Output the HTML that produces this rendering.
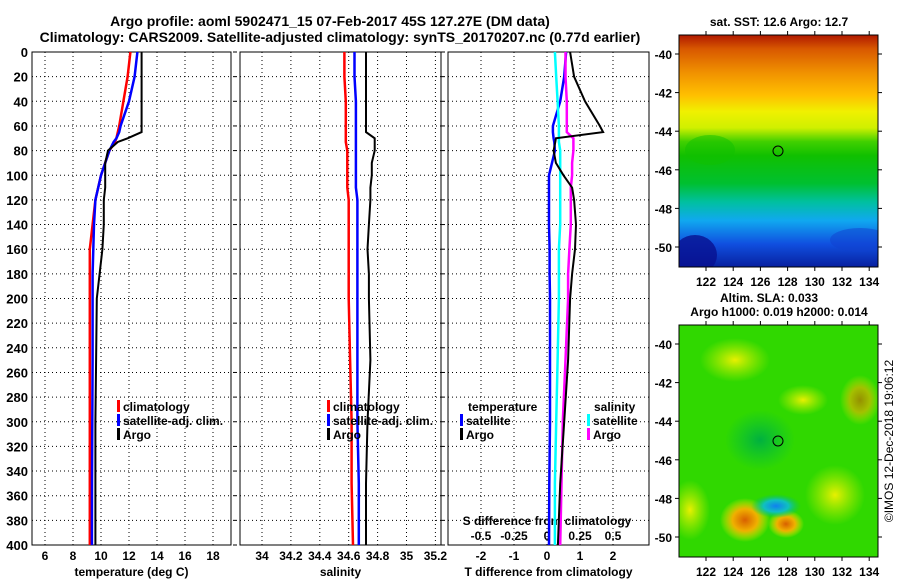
<!DOCTYPE html>
<html><head><meta charset="utf-8"><style>
body{margin:0;background:#fff}
svg{font-family:"Liberation Sans",Arial,sans-serif;font-weight:bold}
</style></head><body>
<svg id="c" width="900" height="580" xmlns="http://www.w3.org/2000/svg">
<defs>
<linearGradient id="sst" x1="0" y1="0" x2="0" y2="1">
<stop offset="0" stop-color="#b01800"/><stop offset="0.06" stop-color="#d85800"/><stop offset="0.16" stop-color="#f09000"/><stop offset="0.26" stop-color="#ffc000"/><stop offset="0.33" stop-color="#f0f000"/><stop offset="0.4" stop-color="#d0f000"/><stop offset="0.46" stop-color="#40d000"/><stop offset="0.52" stop-color="#10c000"/><stop offset="0.64" stop-color="#00c030"/><stop offset="0.72" stop-color="#00c0a0"/><stop offset="0.8" stop-color="#10a8f0"/><stop offset="0.9" stop-color="#1050e0"/><stop offset="1" stop-color="#0820a0"/>
</linearGradient>
<clipPath id="m1"><rect x="679" y="35" width="199" height="232"/></clipPath>
<clipPath id="m2"><rect x="679" y="325" width="199" height="232"/></clipPath>
<radialGradient id="hot"><stop offset="0" stop-color="#d86000"/><stop offset="0.5" stop-color="#f0b000"/><stop offset="1" stop-color="#f0f000" stop-opacity="0"/></radialGradient>
<radialGradient id="yel"><stop offset="0" stop-color="#e8f000"/><stop offset="1" stop-color="#c0f000" stop-opacity="0"/></radialGradient>
<radialGradient id="cold"><stop offset="0" stop-color="#1080f0"/><stop offset="0.5" stop-color="#10c0c0"/><stop offset="1" stop-color="#00c060" stop-opacity="0"/></radialGradient>
<radialGradient id="dkg"><stop offset="0" stop-color="#00b040"/><stop offset="1" stop-color="#00c040" stop-opacity="0"/></radialGradient>
</defs>
<text x="330" y="26" text-anchor="middle" font-size="14">Argo profile: aoml 5902471_15 07-Feb-2017 45S 127.27E (DM data)</text>
<text x="340" y="42" text-anchor="middle" font-size="14">Climatology: CARS2009. Satellite-adjusted climatology: synTS_20170207.nc (0.77d earlier)</text>
<g id="plots"></g>
<g>
<text x="779" y="26" text-anchor="middle" font-size="12">sat. SST: 12.6 Argo: 12.7</text>
<g clip-path="url(#m1)">
<rect x="679" y="35" width="199" height="232" fill="url(#sst)"/>
<ellipse cx="695" cy="255" rx="22" ry="20" fill="#081090" opacity="0.8"/>
<ellipse cx="860" cy="240" rx="30" ry="12" fill="#1040d0" opacity="0.5"/>
<ellipse cx="710" cy="150" rx="25" ry="15" fill="#10c000" opacity="0.5"/>
</g>
<rect x="679" y="35" width="199" height="232" fill="none" stroke="#000"/>
<circle cx="778" cy="151" r="5" fill="none" stroke="#000"/>
</g>
<g>
<text x="769" y="302" text-anchor="middle" font-size="12">Altim. SLA: 0.033</text>
<text x="779" y="316" text-anchor="middle" font-size="12">Argo h1000: 0.019 h2000: 0.014</text>
<g clip-path="url(#m2)">
<rect x="679" y="325" width="199" height="232" fill="#30d800"/>
<ellipse cx="735" cy="360" rx="35" ry="22" fill="url(#yel)"/>
<ellipse cx="860" cy="400" rx="20" ry="25" fill="url(#hot)" opacity="0.6"/>
<ellipse cx="803" cy="400" rx="25" ry="15" fill="url(#yel)"/>
<ellipse cx="745" cy="520" rx="25" ry="22" fill="url(#hot)"/>
<ellipse cx="786" cy="524" rx="18" ry="14" fill="url(#hot)"/>
<ellipse cx="776" cy="506" rx="25" ry="12" fill="url(#cold)"/>
<ellipse cx="835" cy="495" rx="30" ry="30" fill="url(#yel)"/>
<ellipse cx="690" cy="510" rx="20" ry="30" fill="url(#yel)"/>
<ellipse cx="760" cy="440" rx="35" ry="30" fill="url(#dkg)"/>
</g>
<rect x="679" y="325" width="199" height="232" fill="none" stroke="#000"/>
<circle cx="778" cy="441" r="5" fill="none" stroke="#000"/>
<text transform="translate(893,441) rotate(-90)" text-anchor="middle" font-size="12" font-weight="normal">©IMOS 12-Dec-2018 19:06:12</text>
</g>
<g id="maxes"></g>
</svg>
<script>
const depth=[0,20,40,60,65,70,73,80,90,100,110,120,140,160,180,200,250,300,350,400];
const argoT=[12.9,12.9,12.9,12.9,12.9,11.9,11.2,10.5,10.3,10.3,10.3,10.2,10.2,10.1,9.9,9.7,9.65,9.6,9.6,9.6];
const climT=[12.1,11.9,11.6,11.3,11.2,11.1,11.0,10.6,10.3,10.0,9.8,9.6,9.4,9.2,9.2,9.2,9.2,9.2,9.2,9.2];
const satT=[12.6,12.4,12.0,11.4,11.3,11.1,10.9,10.6,10.3,10.0,9.8,9.6,9.5,9.45,9.4,9.4,9.4,9.38,9.36,9.35];
const argoS=[34.72,34.72,34.72,34.72,34.72,34.78,34.78,34.78,34.76,34.76,34.75,34.75,34.74,34.73,34.74,34.74,34.75,34.73,34.72,34.72];
const climS=[34.57,34.57,34.58,34.58,34.58,34.58,34.58,34.59,34.59,34.59,34.59,34.6,34.6,34.6,34.6,34.6,34.61,34.62,34.62,34.63];
const satS=[34.64,34.64,34.65,34.65,34.65,34.65,34.65,34.65,34.65,34.65,34.65,34.66,34.66,34.66,34.66,34.66,34.66,34.66,34.67,34.67];
const satTd=[0.58,0.52,0.4,0.18,0.18,0.2,0.22,0.24,0.15,0.06,0.06,0.06,0.06,0.08,0.08,0.09,0.09,0.09,0.07,0.06];
const argoTd=[0.7,0.82,1.15,1.6,1.7,0.27,0.25,0.2,0.27,0.5,0.76,0.82,0.88,0.85,0.76,0.7,0.64,0.52,0.4,0.33];
const satSd=[0.06,0.07,0.08,0.09,0.09,0.09,0.09,0.1,0.1,0.1,0.1,0.1,0.1,0.09,0.09,0.09,0.08,0.07,0.06,0.06];
const argoSd=[0.14,0.14,0.15,0.15,0.15,0.2,0.2,0.2,0.19,0.19,0.18,0.18,0.18,0.17,0.16,0.16,0.14,0.12,0.11,0.1];
const yTicks=[0,20,40,60,80,100,120,140,160,180,200,220,240,260,280,300,320,340,360,380,400];
const tTicks=[6,8,10,12,14,16,18];
const sTicks=[34,34.2,34.4,34.6,34.8,35,35.2];
const dTicks=[-2,-1,0,1,2];
const sdTicks=[-0.5,-0.25,0,0.25,0.5];

const NS='http://www.w3.org/2000/svg';
const G=document.getElementById('plots');
function mk(tag,at,par){const e=document.createElementNS(NS,tag);for(const k in at)e.setAttribute(k,at[k]);(par||G).appendChild(e);return e;}
const Y=d=>52+d*1.2325;
const xT=v=>45+(v-6)*14;
const xS=v=>262+(v-34)*144.5;
const xD=v=>547+v*33;
const xSD=v=>547+v*132;
const panels=[[32,231],[240,441],[448,649]];
function frame(i,xs,ticks,fmt,label,name){
  const [l,r]=panels[i];
  const g=mk('g',{});
  
  
  yTicks.forEach(d=>{if(d>0&&d<400)mk('line',{x1:l,x2:r,y1:Y(d),y2:Y(d),stroke:'#000','stroke-dasharray':'1 3'},g);
    if(i==0){const t=mk('text',{x:l-4,y:Y(d)+5,'text-anchor':'end','font-size':13},g);t.textContent=d;}
    else{mk('line',{x1:l-7,x2:l-3,y1:Y(d),y2:Y(d),stroke:'#000'},g);}
  });
  ticks.forEach(v=>{const x=xs(v);if(x>l&&x<r)mk('line',{x1:x,x2:x,y1:52,y2:545,stroke:'#000','stroke-dasharray':'1 3'},g);
    const t=mk('text',{x:x,y:560,'text-anchor':'middle','font-size':12},g);t.textContent=fmt(v);});
  mk('rect',{x:l,y:52,width:r-l,height:493,fill:'none',stroke:'#000'},g);
  const t=mk('text',{x:(l+r)/2,y:576,'text-anchor':'middle','font-size':12},g);t.textContent=label;
}
frame(0,xT,tTicks,v=>v,'temperature (deg C)','temperature-panel');
frame(1,xS,sTicks,v=>v,'salinity','salinity-panel');
frame(2,xD,dTicks,v=>v,'T difference from climatology','difference-panel');
{const g=G.lastChild;
 const t=mk('text',{x:547,y:525,'text-anchor':'middle','font-size':12},g);t.textContent='S difference from climatology';
 sdTicks.forEach(v=>{const e=mk('text',{x:xSD(v),y:540,'text-anchor':'middle','font-size':12},g);e.textContent=v;});
}
function line(xs,vals,col,w,name){
  const p=vals.map((v,i)=>xs(v).toFixed(1)+','+Y(depth[i]).toFixed(1)).join(' ');
  const e=mk('polyline',{points:p,fill:'none',stroke:col,'stroke-width':w});
  
  
}
line(xT,climT,'#f00',2.5,'clim-temperature-line');
line(xT,satT,'#00f',2.5,'sat-temperature-line');
line(xT,argoT,'#000',2,'argo-temperature-line');
line(xS,climS,'#f00',2.5,'clim-salinity-line');
line(xS,satS,'#00f',2.5,'sat-salinity-line');
line(xS,argoS,'#000',2,'argo-salinity-line');
line(xD,satTd,'#00f',2.5,'sat-t-diff-line');
line(xSD,satSd,'#0ff',2.5,'sat-s-diff-line');
line(xSD,argoSd,'#f0f',2.5,'argo-s-diff-line');
line(xD,argoTd,'#000',2,'argo-t-diff-line');
function leg(x,y,col,txt,name){
  const g=mk('g',{});
  
  
  if(col)mk('rect',{x:x,y:y-11,width:3,height:12,fill:col},g);
  const t=mk('text',{x:x+(col?6:0),y:y,'font-size':12},g);t.textContent=txt;
}
leg(117,411,'#f00','climatology','legend-climatology');
leg(117,425,'#00f','satellite-adj. clim.','legend-satellite');
leg(117,439,'#000','Argo','legend-argo');
leg(327,411,'#f00','climatology','legend-climatology-s');
leg(327,425,'#00f','satellite-adj. clim.','legend-satellite-s');
leg(327,439,'#000','Argo','legend-argo-s');
leg(468,411,null,'temperature','legend-temperature-head');
leg(460,425,'#00f','satellite','legend-t-satellite');
leg(460,439,'#000','Argo','legend-t-argo');
leg(594,411,null,'salinity','legend-salinity-head');
leg(587,425,'#0ff','satellite','legend-s-satellite');
leg(587,439,'#f0f','Argo','legend-s-argo');
const mapLon=[122,124,126,128,130,132,134];
const mapLat=[-40,-42,-44,-46,-48,-50];
const MX=document.getElementById('maxes');
[[35,54],[325,344]].forEach(([top,y40],k)=>{
  mapLat.forEach(v=>{const y=y40+(-40-v)*19.3;
    mk('line',{x1:679,x2:675,y1:y,y2:y,stroke:'#000'},MX);mk('line',{x1:878,x2:882,y1:y,y2:y,stroke:'#000'},MX);
    const t=mk('text',{x:672,y:y+5,'text-anchor':'end','font-size':12},MX);t.textContent=v;});
  mapLon.forEach(v=>{const x=706+(v-122)*13.6;
    mk('line',{x1:x,x2:x,y1:top,y2:top-4,stroke:'#000'},MX);mk('line',{x1:x,x2:x,y1:top+232,y2:top+236,stroke:'#000'},MX);
    const t=mk('text',{x:x,y:top+251,'text-anchor':'middle','font-size':12},MX);t.textContent=v;});
});
</script>
</body></html>
